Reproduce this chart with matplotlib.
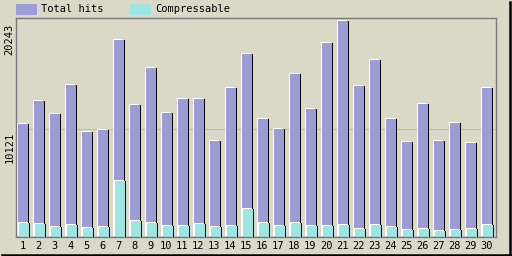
import numpy as np
import matplotlib
matplotlib.use('Agg')
import matplotlib.pyplot as plt
from matplotlib import transforms
from matplotlib.patches import Rectangle
from matplotlib.lines import Line2D

# daily values
days = np.arange(1, 31)
total_hits = [10560, 12750, 11510, 14210, 9840, 10020, 18400, 12350, 15790, 11610,
              12910, 12910, 9000, 13930, 17100, 11050, 10080, 15240, 11980, 18120,
              20243, 14120, 16540, 11050, 8910, 12440, 9000, 10680, 8750, 13930]
compressable = [1275, 1180, 930, 1090, 840, 930, 5210, 1460, 1275, 995,
                995, 1180, 930, 995, 2610, 1275, 995, 1275, 995, 995,
                1090, 715, 1090, 900, 620, 715, 530, 620, 715, 1090]
ytick_vals = [10121, 20243]
series_names = ['Total hits', 'Compressable']

bg = '#DAD8C6'
c_hits = '#9C9CD6'
c_comp = '#9EE6E4'
mono = 'DejaVu Sans Mono'

W, H = 512, 256
fig = plt.figure(figsize=(W / 100, H / 100), dpi=100, facecolor=bg)
ax = fig.add_axes([16 / W, 19 / H, 480 / W, 219 / H], facecolor=bg)

ymax = max(total_hits) * 219 / 216.5
ax.set_xlim(0.5, 30.5)
ax.set_ylim(0, ymax)


def bevel_bars(x, h, width, color, z):
    # black shadow right, white highlight left/top, like the old gd graphs
    sh = transforms.offset_copy(ax.transData, fig=fig, x=1, y=0, units='dots')
    hl = transforms.offset_copy(ax.transData, fig=fig, x=-1, y=1, units='dots')
    ax.bar(x, h, width, color='black', lw=0, transform=sh, zorder=z, antialiased=False)
    ax.bar(x, h, width, color='white', lw=0, transform=hl, zorder=z + 0.1, antialiased=False)
    ax.bar(x, h, width, color=color, lw=0, zorder=z + 0.2, antialiased=False)


bw = 10 / 16
bevel_bars(days - 0.5 + 1.5 / 16 + bw / 2, total_hits, bw, c_hits, 3)
bevel_bars(days - 0.5 + 2.5 / 16 + bw / 2, compressable, bw, c_comp, 4)

ax.axhline(ytick_vals[0], color='#BEBEBE', lw=0.8, zorder=1)

for s in ['left', 'top', 'right', 'bottom']:
    ax.spines[s].set_color('#7A7A7A')
    ax.spines[s].set_linewidth(1.0)
    ax.spines[s].set_zorder(6)

ax.set_xticks(days - 0.1, [str(d) for d in days])
ax.tick_params(axis='x', length=0, pad=3, labelsize=7.5, labelcolor='black')
for lbl in ax.get_xticklabels():
    lbl.set_family(mono)
ax.set_yticks([])

ylab_tr = transforms.blended_transform_factory(fig.transFigure, ax.transData)
ylab_tr = ylab_tr + transforms.ScaledTranslation(0, -3 / 100, fig.dpi_scale_trans)
for v in ytick_vals:
    ax.text(9.5 / W, v, str(v), transform=ylab_tr, rotation=90, ha='center', va='top',
            fontsize=7.5, family=mono, color='black', clip_on=False)

# legend at top
legend_items = [(16, c_hits), (130, c_comp)]
for (x0, col), name in zip(legend_items, series_names):
    fig.add_artist(Rectangle((x0 / W, 1 - 15 / H), 21 / W, 11 / H, transform=fig.transFigure,
                             facecolor=col, edgecolor='none'))
    fig.text((x0 + 25) / W, 1 - 9.5 / H, name, ha='left', va='center', fontsize=7.5,
             family=mono, color='black')

# outer 3d frame
fig.add_artist(Line2D([509.5 / W, 509.5 / W], [1.5 / H, 1 - 2 / H], transform=fig.transFigure,
                      color='black', lw=1.8))
fig.add_artist(Line2D([2 / W, 510 / W], [1.5 / H, 1.5 / H], transform=fig.transFigure,
                      color='black', lw=1.8))

fig.savefig('out.png', dpi=100, facecolor=bg)
